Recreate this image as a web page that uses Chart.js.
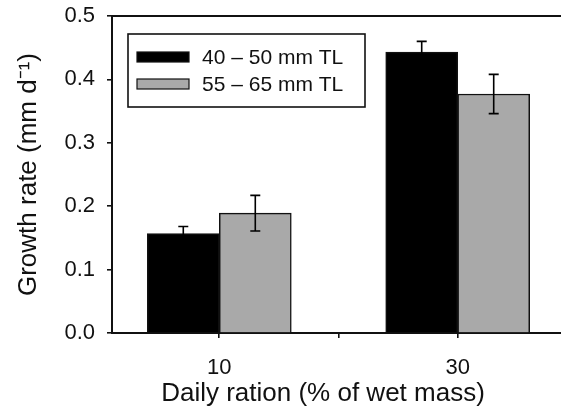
<!DOCTYPE html>
<html lang="en">
<head>
<meta charset="UTF-8">
<title>Growth rate vs daily ration</title>
<script src="https://cdn.jsdelivr.net/npm/chart.js"></script>
<style>
  body { margin: 0; background: white; }
  #wrap { width: 561px; height: 413px; }
</style>
</head>
<body>
<div id="wrap"><canvas id="growthChart" width="561" height="413"></canvas></div>
<script>
  // values
  const rations = [10, 30];
  const smallFish = [0.157, 0.443];
  const smallErr = [0.011, 0.017];
  const largeFish = [0.189, 0.377];
  const largeErr = [0.028, 0.031];
  const seriesLabels = ['40 – 50 mm TL', '55 – 65 mm TL'];
  const xTicks = [10, 20, 30];
  const xTickLabels = ['10', '', '30'];
  const yTicks = [0, 0.1, 0.2, 0.3, 0.4, 0.5];
  const yTickLabels = ['0.0', '0.1', '0.2', '0.3', '0.4', '0.5'];
  const errors = [smallErr, largeErr];

  const ink = '#111';
  const font = 'Liberation Sans, Arial, sans-serif';

  // error bars on top of each bar
  const errorBars = {
    id: 'errorBars',
    afterDatasetsDraw(chart) {
      const ctx = chart.ctx, y = chart.scales.y;
      ctx.save();
      ctx.strokeStyle = '#000';
      ctx.lineWidth = 1.6;
      chart.data.datasets.forEach((ds, i) => {
        chart.getDatasetMeta(i).data.forEach((bar, j) => {
          const v = ds.data[j].y, e = errors[i][j];
          const top = y.getPixelForValue(v + e), bot = y.getPixelForValue(v - e);
          ctx.beginPath();
          ctx.moveTo(bar.x, top); ctx.lineTo(bar.x, bot);
          ctx.moveTo(bar.x - 5, top); ctx.lineTo(bar.x + 5, top);
          ctx.moveTo(bar.x - 5, bot); ctx.lineTo(bar.x + 5, bot);
          ctx.stroke();
        });
      });
      ctx.restore();
    }
  };

  // top line of the frame, and both lines run on to the right edge
  const frame = {
    id: 'frame',
    afterDraw(chart) {
      const ctx = chart.ctx, a = chart.chartArea;
      ctx.save();
      ctx.strokeStyle = ink;
      ctx.lineWidth = 2;
      ctx.beginPath();
      ctx.moveTo(a.left, a.top); ctx.lineTo(chart.width, a.top);
      ctx.moveTo(a.right - 1, a.bottom); ctx.lineTo(chart.width, a.bottom);
      ctx.stroke();
      ctx.restore();
    }
  };

  // boxed legend inside the plot
  const boxLegend = {
    id: 'boxLegend',
    afterDraw(chart) {
      const ctx = chart.ctx, a = chart.chartArea;
      const left = a.left + 16, top = a.top + 18;
      ctx.save();
      ctx.lineWidth = 1.6;
      ctx.strokeStyle = ink;
      ctx.strokeRect(left, top, 237, 73);
      ctx.font = '21px ' + font;
      ctx.textBaseline = 'middle';
      chart.data.datasets.forEach((ds, i) => {
        const sy = top + 18 + i * 27;
        ctx.fillStyle = ds.backgroundColor;
        ctx.fillRect(left + 9, sy, 52, 10);
        ctx.lineWidth = 1.2;
        ctx.strokeRect(left + 9, sy, 52, 10);
        ctx.fillStyle = ink;
        ctx.fillText(ds.label, left + 74, sy + 6);
      });
      ctx.restore();
    }
  };

  new Chart(document.getElementById('growthChart'), {
    type: 'bar',
    data: {
      datasets: [
        {
          label: seriesLabels[0],
          data: rations.map((r, i) => ({ x: r, y: smallFish[i] })),
          backgroundColor: '#000',
          borderColor: ink,
          borderWidth: 1.5
        },
        {
          label: seriesLabels[1],
          data: rations.map((r, i) => ({ x: r, y: largeFish[i] })),
          backgroundColor: '#a9a9a9',
          borderColor: ink,
          borderWidth: 1.5
        }
      ]
    },
    plugins: [errorBars, frame, boxLegend],
    options: {
      responsive: false,
      animation: false,
      barThickness: 72,
      layout: { padding: { top: 16, right: 27 } },
      plugins: { legend: { display: false }, tooltip: { enabled: false } },
      scales: {
        x: {
          type: 'linear',
          min: 1,
          max: 36.4,
          offset: false,
          afterFit(s) { s.height = 80; },
          afterBuildTicks(s) { s.ticks = xTicks.map(v => ({ value: v })); },
          grid: { offset: false, drawOnChartArea: false, tickLength: 5, color: ink, lineWidth: 1.6 },
          border: { color: ink, width: 2 },
          ticks: {
            autoSkip: false,
            padding: 17,
            color: ink,
            font: { family: font, size: 22 },
            callback: v => xTickLabels[xTicks.indexOf(v)]
          },
          title: {
            display: true,
            text: 'Daily ration (% of wet mass)',
            color: ink,
            font: { family: font, size: 26 },
            padding: { top: 0, bottom: 4 }
          }
        },
        y: {
          min: 0,
          max: 0.5,
          afterFit(s) { s.width = 112; s.paddingTop = 0; s.paddingBottom = 0; },
          afterBuildTicks(s) { s.ticks = yTicks.map(v => ({ value: v })); },
          grid: { drawOnChartArea: false, tickLength: 5, color: ink, lineWidth: 1.6 },
          border: { color: ink, width: 2 },
          ticks: {
            padding: 12,
            color: ink,
            font: { family: font, size: 22 },
            callback: (v, i) => yTickLabels[i]
          },
          title: {
            display: true,
            text: 'Growth rate (mm d⁻¹)',
            color: ink,
            font: { family: font, size: 26 },
            padding: { top: 13, bottom: 0 }
          }
        }
      }
    }
  });
</script>
</body>
</html>
